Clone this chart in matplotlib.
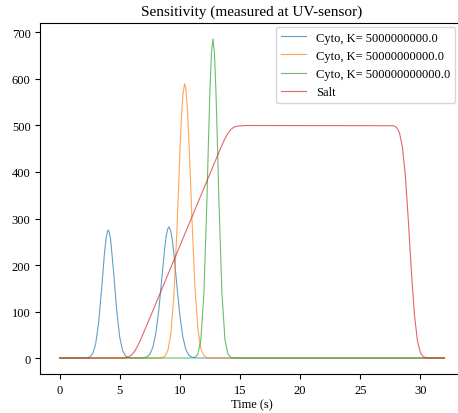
import matplotlib
matplotlib.use("Agg")
import matplotlib.pyplot as plt

plt.rcParams['font.family'] = ['Liberation Serif', 'DejaVu Serif']

# Cyto, K = 5e9 (two peaks)
t_k1 = [0, 2.25, 2.5, 2.75, 3.0, 3.25, 3.5, 3.75, 3.875, 4.0, 4.05, 4.125, 4.25, 4.5, 4.75, 5.0, 5.25,
        5.5, 5.75, 6.0, 6.5, 6.75, 7.0, 7.25, 7.5, 7.75, 8.0, 8.25, 8.5, 8.75, 8.875, 9.0, 9.1, 9.25,
        9.375, 9.5, 9.75, 10.0, 10.25, 10.5, 10.75, 11.0, 11.25, 11.5, 11.75, 32]
y_k1 = [0, 0.3, 2.3, 9.4, 30, 76, 150, 230, 258, 274, 275, 271, 254, 183, 103, 45, 15.4,
        4.1, 0.9, 0.2, 0, 0.1, 0.6, 2.4, 8.1, 22.4, 52.5, 103, 171, 238, 264, 278, 282, 273,
        254, 226, 157, 92, 45, 18.5, 6.4, 1.9, 0.5, 0.1, 0, 0]

# Cyto, K = 5e10
t_k2 = [0, 8.25, 8.5, 8.75, 9.0, 9.25, 9.5, 9.75, 9.875, 10.0, 10.125, 10.25, 10.4, 10.5, 10.625,
        10.75, 10.875, 11.0, 11.25, 11.5, 11.75, 12.0, 12.25, 12.5, 12.75, 32]
y_k2 = [0, 0.1, 0.7, 3.8, 15.7, 51, 132, 270, 354, 439, 513, 566, 590, 579, 537,
        470, 389, 303, 155, 63, 20, 5.2, 1.1, 0.2, 0, 0]

# Cyto, K = 5e11
t_k3 = [0, 11.0, 11.25, 11.5, 11.75, 12.0, 12.25, 12.375, 12.5, 12.625, 12.75, 12.875, 13.0, 13.125,
        13.25, 13.5, 13.75, 14.0, 14.25, 14.5, 14.75, 32]
y_k3 = [0, 0.1, 1.2, 8.2, 40, 139, 338, 461, 575, 656, 686, 656, 575, 461,
        338, 139, 40, 8.2, 1.2, 0.1, 0, 0]

# Salt
t_salt = [0, 5.0, 5.5, 5.75, 6.0, 6.25, 6.5, 6.75, 7.0, 7.5, 8, 9, 10, 11, 12, 13, 13.5, 13.75, 14.0,
          14.25, 14.5, 14.75, 15.0, 15.5, 27.75, 28.0, 28.25, 28.5, 28.75, 29.0, 29.25, 29.5, 29.75,
          30.0, 30.25, 30.5, 31.0, 32]
y_salt = [0, 0, 0.7, 2.5, 6.9, 14.8, 26.3, 40.3, 55.3, 86, 117, 179, 241, 303, 365, 427, 457.7, 471.3, 483.3,
          491.7, 496.5, 498.5, 499.2, 500, 499.5, 496.3, 485.3, 454.4, 391, 294, 185, 93.5, 37.2,
          11.4, 2.6, 0.5, 0, 0]

labels = ['Cyto, K= 5000000000.0', 'Cyto, K= 50000000000.0', 'Cyto, K= 500000000000.0', 'Salt']

fig = plt.figure(figsize=(4.58, 4.14), dpi=100)
ax = fig.add_axes([0.088, 0.0942, 0.9245, 0.8478])

ax.plot(t_k1, y_k1, color='C0', lw=0.8, alpha=0.7, label=labels[0])
ax.plot(t_k2, y_k2, color='C1', lw=0.8, alpha=0.7, label=labels[1])
ax.plot(t_k3, y_k3, color='C2', lw=0.8, alpha=0.7, label=labels[2])
ax.plot(t_salt, y_salt, color='C3', lw=0.8, alpha=0.7, label=labels[3])

ax.set_title('Sensitivity (measured at UV-sensor)', fontsize=11)
ax.set_xlabel('Time (s)', fontsize=9, labelpad=2)
ax.tick_params(labelsize=9)
ax.legend(loc='upper right', bbox_to_anchor=(0.98, 0.99), borderaxespad=0, fontsize=9)

fig.savefig('out.png', dpi=100)
